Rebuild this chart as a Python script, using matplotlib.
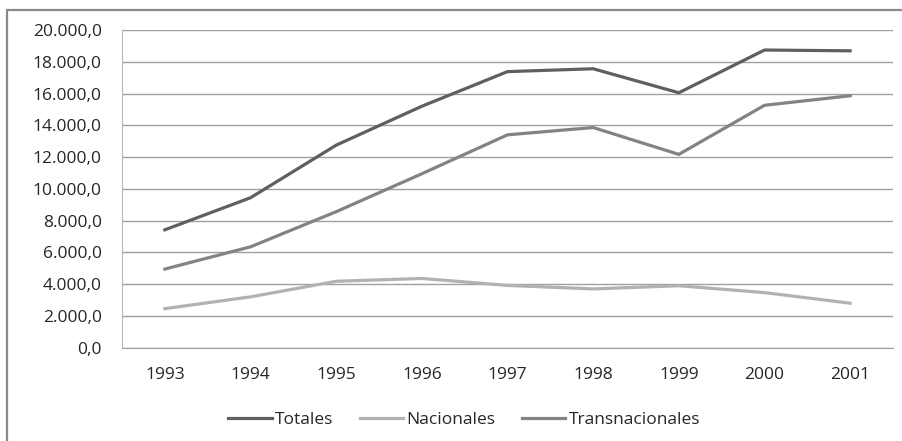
import matplotlib
matplotlib.use("Agg")
import matplotlib.pyplot as plt
from matplotlib.patches import Rectangle
from matplotlib.ticker import FuncFormatter

years = ["1993", "1994", "1995", "1996", "1997", "1998", "1999", "2000", "2001"]
totales = [7420, 9440, 12750, 15200, 17380, 17560, 16050, 18740, 18690]
nacionales = [2460, 3200, 4180, 4360, 3920, 3700, 3900, 3470, 2800]
transnacionales = [4950, 6350, 8560, 10950, 13400, 13860, 12170, 15260, 15860]

plt.rcParams['font.family'] = ['Open Sans', 'DejaVu Sans']
FS = 12.5

fig = plt.figure(figsize=(9.03, 4.41), dpi=100)
ax = fig.add_axes([122 / 903, 1 - 347.7 / 441, (893 - 122) / 903, (347.7 - 30) / 441])

x = range(len(years))
ax.plot(x, totales, color="#5f5f5f", lw=2.3, label="Totales")
ax.plot(x, nacionales, color="#b2b2b2", lw=2.3, label="Nacionales")
ax.plot(x, transnacionales, color="#838383", lw=2.3, label="Transnacionales")

ax.set_xlim(-0.5, len(years) - 0.5)
ax.set_ylim(0, 20000)
ax.set_yticks(range(0, 20001, 2000))
ax.yaxis.set_major_formatter(FuncFormatter(lambda v, p: f"{v:,.1f}".replace(",", "X").replace(".", ",").replace("X", ".")))
ax.set_xticks(list(x))
ax.set_xticklabels(years)
ax.grid(axis="y", color="#a0a0a0", lw=1)
ax.set_axisbelow(True)
ax.tick_params(axis="both", length=0, labelsize=FS, colors="#262626")
ax.tick_params(axis="y", pad=14.5)
ax.tick_params(axis="x", pad=14)
for s in ["top", "right"]:
    ax.spines[s].set_visible(False)
ax.spines["left"].set_color("#b8b8b8")
ax.spines["bottom"].set_color("#a0a0a0")

fig.legend(loc="center", bbox_to_anchor=(0.514, 0.048), ncol=3, frameon=False,
           fontsize=FS, handlelength=2.5, handletextpad=0.2, columnspacing=1.5,
           labelcolor="#262626")

fig.patches.append(Rectangle((7 / 903, -0.1), 1.1, 1.1 - 10.5 / 441, transform=fig.transFigure,
                             fill=False, edgecolor="#8a8a8a", lw=1.6))

fig.savefig("out.png", dpi=100)
